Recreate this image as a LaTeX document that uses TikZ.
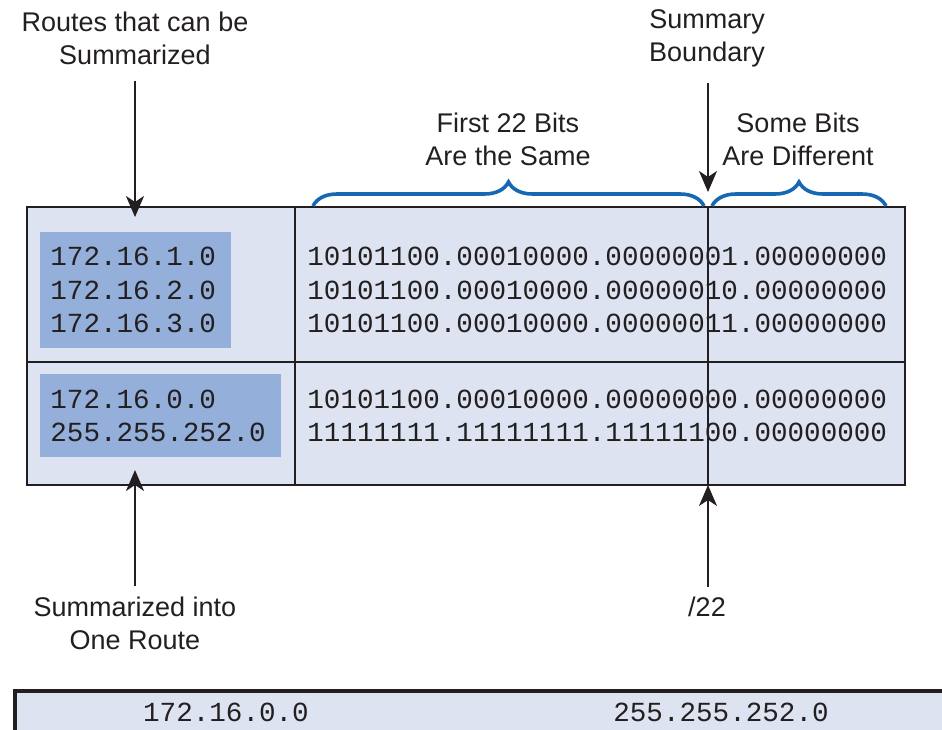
\documentclass[tikz,border=0pt]{standalone}
\usepackage{fontspec}
\setmainfont{Liberation Sans}
\setmonofont{Liberation Mono}
\usetikzlibrary{arrows.meta,decorations.pathreplacing}
\definecolor{cellfill}{RGB}{221,227,241}
\definecolor{addrfill}{RGB}{147,175,218}
\definecolor{bracecol}{RGB}{22,104,178}
\definecolor{inkgray}{RGB}{35,31,32}

\begin{document}
\begin{tikzpicture}[x=0.5pt,y=-0.5pt,
    notetext/.style={font=\fontsize{13.5}{16.5}\selectfont,align=center,inner sep=0pt,text=inkgray},
    bits/.style={font=\ttfamily\fontsize{13.8}{16.5}\selectfont,anchor=base west,inner sep=0pt,text=inkgray},
    pointer/.style={line width=1pt,draw=inkgray,-{Stealth[length=10.5pt,width=9pt,inset=3pt]}},
    tablegrid/.style={line width=1.4pt,draw=inkgray},
    bitbrace/.style={decorate,decoration={brace,amplitude=12pt},line width=1.8pt,draw=bracecol}]
    \useasboundingbox (0,0) rectangle (942,729);
    \coordinate (TL) at (27,207);
    \coordinate (BR) at (905,485);
    \coordinate (bndTop) at (708,207);
    \coordinate (bndBot) at (708,485);
    \coordinate (tipRoutes) at (135,217);
    \coordinate (tipInto) at (135,470);
    \coordinate (tipBound) at (708,192);
    \draw[tablegrid,fill=cellfill] (TL) rectangle (BR);
    \draw[tablegrid] (295,207) -- (295,485);
    \draw[tablegrid] (27,362) -- (905,362);
    \fill[addrfill] (40,232) rectangle (231,348);
    \fill[addrfill] (40,374) rectangle (281,457);
    \node[bits] (route1) at (50,265) {172.16.1.0};
    \node[bits] (route2) at (50,299) {172.16.2.0};
    \node[bits] (route3) at (50,332) {172.16.3.0};
    \node[bits] (sumnet) at (50,408) {172.16.0.0};
    \node[bits] (summask) at (50,441) {255.255.252.0};
    \node[bits] (bin1) at (307,265) {10101100.00010000.00000001.00000000};
    \node[bits] (bin2) at (307,299) {10101100.00010000.00000010.00000000};
    \node[bits] (bin3) at (307,332) {10101100.00010000.00000011.00000000};
    \node[bits] (binnet) at (307,408) {10101100.00010000.00000000.00000000};
    \node[bits] (binmask) at (307,441) {11111111.11111111.11111100.00000000};
    \draw[line width=1.1pt,draw=inkgray] (bndTop) -- (bndBot);
    \draw[bitbrace] (313,206) -- (704,206);
    \draw[bitbrace] (712,206) -- (886,206);
    \node[notetext] (routes) at (135,38) {Routes that can be\\Summarized};
    \node[notetext] (sumbound) at (707,38) {Summary\\Boundary};
    \node[notetext] (samebits) at (508,139) {First 22 Bits\\Are the Same};
    \node[notetext] (diffbits) at (798,139) {Some Bits\\Are Different};
    \node[notetext] (into) at (135,623) {Summarized into\\One Route};
    \node[notetext] (prefix) at (707,607) {/22};
    \draw[pointer] ([yshift=-8pt]routes.south) -- (tipRoutes);
    \draw[pointer] ([yshift=-8pt]sumbound.south -| tipBound) -- (tipBound);
    \draw[pointer] ([yshift=5pt]into.north) -- (tipInto);
    \draw[pointer] ([yshift=5pt]prefix.north -| bndBot) -- (bndBot);
    \draw[tablegrid,line width=1.8pt,fill=cellfill] (15,691) rectangle (960,760);
    \node[bits,anchor=base] (barnet) at (226,721) {172.16.0.0};
    \node[bits,anchor=base] (barmask) at (721,721) {255.255.252.0};
\end{tikzpicture}
\end{document}
